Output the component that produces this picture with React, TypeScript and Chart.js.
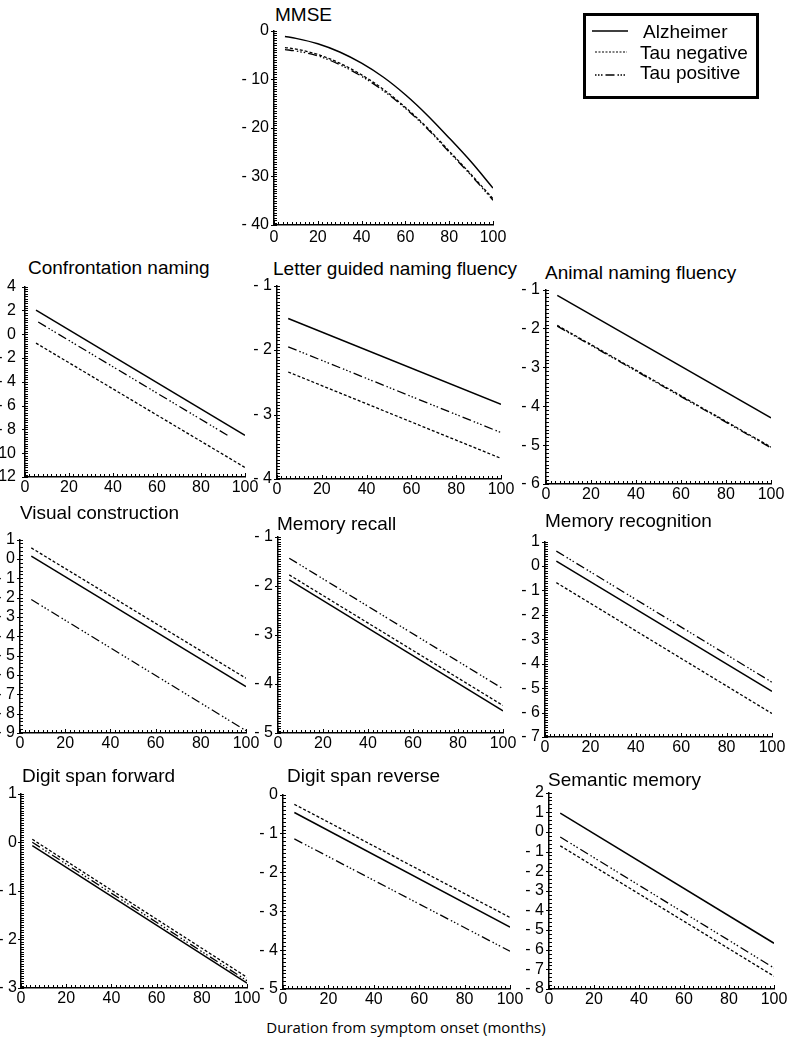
import React, { useEffect, useRef } from "react";
import { Chart, registerables } from "chart.js";
Chart.register(...registerables);

// ---------------- DATA ----------------
const X_TICKS = [0, 20, 40, 60, 80, 100];

const MMSE_TITLE = "MMSE";
const MMSE_TICKS = [0, -10, -20, -30, -40];
const MMSE_X = [5, 10, 20, 30, 40, 50, 60, 70, 80, 90, 100];
const MMSE_ALZ = [-1.2, -1.6, -2.7, -4.4, -6.7, -9.6, -13.2, -17.4, -22.1, -27.0, -32.4];
const MMSE_NEG = [-3.5, -3.8, -4.9, -6.7, -9.1, -12.1, -15.8, -20.0, -24.8, -29.6, -34.6];
const MMSE_POS = [-3.9, -4.2, -5.2, -7.0, -9.4, -12.4, -16.0, -20.2, -25.0, -29.8, -34.9];

const PANEL_TITLES = [
  "Confrontation naming",
  "Letter guided naming fluency",
  "Animal naming fluency",
  "Visual construction",
  "Memory recall",
  "Memory recognition",
  "Digit span forward",
  "Digit span reverse",
  "Semantic memory",
];
const PANEL_TICKS = [
  [4, 2, 0, -2, -4, -6, -8, -10, -12],
  [-1, -2, -3, -4],
  [-1, -2, -3, -4, -5, -6],
  [1, 0, -1, -2, -3, -4, -5, -6, -7, -8, -9],
  [-1, -2, -3, -4, -5],
  [1, 0, -1, -2, -3, -4, -5, -6, -7],
  [1, 0, -1, -2, -3],
  [0, -1, -2, -3, -4, -5],
  [2, 1, 0, -1, -2, -3, -4, -5, -6, -7, -8],
];
// start / end values of each fitted line (x from LINE_X unless noted)
const LINE_X = [5, 100];
const ALZ_Y = [
  [2.02, -8.5], [-1.51, -2.84], [-1.15, -4.3], [0.14, -6.6], [-1.88, -4.55],
  [0.2, -5.13], [-0.07, -2.9], [-0.46, -3.41], [0.96, -5.67],
];
const NEG_Y = [
  [-0.75, -11.2], [-2.34, -3.68], [-1.92, -5.05], [0.57, -6.17], [-1.78, -4.44],
  [-0.68, -6.04], [0.06, -2.78], [-0.25, -3.16], [-0.71, -7.35],
];
const POS_Y = [
  [1.02, -8.6], [-1.95, -3.28], [-1.94, -5.07], [-2.1, -8.88], [-1.44, -4.1],
  [0.61, -4.76], [0.0, -2.85], [-1.14, -4.03], [-0.26, -6.93],
];
const POS_X = [
  [6, 93], [5, 100], [5, 100], [5, 100], [5, 100],
  [5, 100], [5, 100], [5, 100], [5, 100],
];
const LEGEND_LABELS = ["Alzheimer", "Tau negative", "Tau positive"];
const X_AXIS_TITLE = "Duration from symptom onset (months)";

// ---------------- LAYOUT / STYLE ----------------
const FONT = "'Liberation Sans', Arial, sans-serif";
const DASH_NEG = [3, 2];
const DASH_POS = [9, 3, 1.5, 2, 1.5, 2, 1.5, 3];
const YW = 40, PT = 12, PR = 18, XH = 28;

const MMSE_BOX = [274, 493, 28, 225];
const MMSE_TITLE_POS = [275, 21];
const PANEL_BOX = [
  [25, 245, 280, 477],
  [277, 501, 283, 479],
  [546, 771, 286, 484],
  [20, 246, 537, 733],
  [278, 503, 534, 733],
  [545, 772, 539, 737],
  [21, 247, 792, 988],
  [283, 510, 792, 989],
  [549, 774, 790, 989],
];
const TITLE_POS = [
  [28, 274], [273, 275], [545, 279],
  [20, 519], [277, 530], [545, 527],
  [22, 782], [287, 782], [548, 786],
];
const Y_PAD = [9, 5, 6, 5, 5, 5, 4, 5, 5];

type Series = { xs: number[]; ys: number[]; dash: number[]; width: number; smooth?: boolean };
type Spec = {
  title: string;
  ticks: number[];
  series: Series[];
  box: number[];
  titlePos: number[];
  yPad: number;
  xPad: number;
};

const fmt = (v: number) => (v < 0 ? "- " + Math.abs(v) : String(v));

const minorTicksPlugin = {
  id: "minorTicks",
  afterDraw(chart: any, _args: any, opts: any) {
    const { ctx, chartArea: a, scales } = chart;
    const x = scales.x, y = scales.y;
    const yt: number[] = opts.ticks;
    ctx.save();
    ctx.strokeStyle = "#000";
    ctx.lineWidth = 1;
    ctx.beginPath();
    for (let i = 0; i <= 50; i++) {
      const v = i * 2;
      const px = Math.round(x.getPixelForValue(v)) + 0.5;
      const major = v % 20 === 0;
      ctx.moveTo(px, a.bottom);
      ctx.lineTo(px, a.bottom - (major ? 4 : 3));
    }
    const step = yt[0] - yt[1];
    const spacing = Math.abs(y.getPixelForValue(yt[1]) - y.getPixelForValue(yt[0]));
    const cands = [5, 10, 20];
    let n = 10, best = 1e9;
    for (const c of cands) {
      const d = Math.abs(spacing / c - 3.2);
      if (d < best) { best = d; n = c; }
    }
    const total = (yt.length - 1) * n;
    for (let i = 0; i <= total; i++) {
      const v = yt[0] - (i * step) / n;
      const py = Math.round(y.getPixelForValue(v)) + 0.5;
      if (i % n === 0) {
        ctx.moveTo(a.left - 3, py);
        ctx.lineTo(a.left + 3, py);
      } else {
        ctx.moveTo(a.left, py);
        ctx.lineTo(a.left + 3, py);
      }
    }
    ctx.stroke();
    ctx.restore();
  },
};

function Panel({ spec }: { spec: Spec }) {
  const ref = useRef<HTMLCanvasElement | null>(null);
  const [L, R, T, B] = spec.box;
  const w = R - L + YW + PR;
  const h = B - T + PT + XH;
  useEffect(() => {
    if (!ref.current) return;
    const ticks = spec.ticks;
    const chart = new Chart(ref.current, {
      type: "line",
      data: {
        datasets: spec.series.map((s) => ({
          data: s.xs.map((xv, i) => ({ x: xv, y: s.ys[i] })),
          borderColor: "#000",
          backgroundColor: "#000",
          borderWidth: s.width,
          borderDash: s.dash,
          pointRadius: 0,
          fill: false,
          tension: 0,
          cubicInterpolationMode: s.smooth ? "monotone" : "default",
        })),
      },
      options: {
        responsive: false,
        maintainAspectRatio: false,
        animation: false,
        devicePixelRatio: 1,
        events: [],
        layout: { padding: { left: 0, top: PT, right: PR, bottom: 0 } },
        plugins: {
          legend: { display: false },
          tooltip: { enabled: false },
          title: { display: false },
          minorTicks: { ticks },
        } as any,
        scales: {
          x: {
            type: "linear",
            min: 0,
            max: 100,
            afterBuildTicks: (s: any) => { s.ticks = X_TICKS.map((v) => ({ value: v })); },
            afterFit: (s: any) => { s.height = XH; },
            grid: { display: false, drawTicks: false },
            border: { display: true, color: "#000", width: 1.5 },
            ticks: { color: "#000", font: { family: FONT, size: 16 }, padding: spec.xPad, maxRotation: 0, autoSkip: false },
          },
          y: {
            type: "linear",
            min: ticks[ticks.length - 1],
            max: ticks[0],
            afterBuildTicks: (s: any) => { s.ticks = ticks.map((v) => ({ value: v })); },
            afterFit: (s: any) => { s.width = YW; },
            grid: { display: false, drawTicks: false },
            border: { display: true, color: "#000", width: 1.5 },
            ticks: {
              color: "#000",
              font: { family: FONT, size: 16 },
              padding: spec.yPad,
              autoSkip: false,
              callback: (v: any) => fmt(Number(v)),
            },
          },
        },
      } as any,
      plugins: [minorTicksPlugin as any],
    });
    return () => chart.destroy();
  }, [spec]);
  return (
    <>
      <div
        style={{
          position: "absolute",
          left: spec.titlePos[0],
          top: spec.titlePos[1] - 16,
          fontFamily: FONT,
          fontSize: 19,
          lineHeight: "19px",
          whiteSpace: "nowrap",
          color: "#000",
        }}
      >
        {spec.title}
      </div>
      <canvas
        ref={ref}
        width={w}
        height={h}
        style={{ position: "absolute", left: L - YW, top: T - PT, width: w, height: h }}
      />
    </>
  );
}

const MMSE_SPEC: Spec = {
  title: MMSE_TITLE,
  ticks: MMSE_TICKS,
  series: [
    { xs: MMSE_X, ys: MMSE_ALZ, dash: [], width: 1.5, smooth: true },
    { xs: MMSE_X, ys: MMSE_NEG, dash: DASH_NEG, width: 1.3, smooth: true },
    { xs: MMSE_X, ys: MMSE_POS, dash: DASH_POS, width: 1.3, smooth: true },
  ],
  box: MMSE_BOX,
  titlePos: MMSE_TITLE_POS,
  yPad: 5,
  xPad: 3,
};

const PANEL_SPECS: Spec[] = PANEL_TITLES.map((title, i) => ({
  title,
  ticks: PANEL_TICKS[i],
  series: [
    { xs: LINE_X, ys: ALZ_Y[i], dash: [], width: 1.5 },
    { xs: LINE_X, ys: NEG_Y[i], dash: DASH_NEG, width: 1.3 },
    { xs: POS_X[i], ys: POS_Y[i], dash: DASH_POS, width: 1.3 },
  ],
  box: PANEL_BOX[i],
  titlePos: TITLE_POS[i],
  yPad: Y_PAD[i],
  xPad: 1,
}));

function Legend() {
  const textStyle = (left: number, baseline: number): React.CSSProperties => ({
    position: "absolute",
    left,
    top: baseline - 16,
    fontFamily: FONT,
    fontSize: 19,
    lineHeight: "19px",
    whiteSpace: "nowrap",
    color: "#000",
  });
  return (
    <>
      <div
        style={{
          position: "absolute",
          left: 583,
          top: 13,
          width: 176,
          height: 86,
          border: "3px solid #000",
          boxSizing: "border-box",
          background: "#fff",
        }}
      />
      <svg style={{ position: "absolute", left: 0, top: 0 }} width={801} height={110}>
        <line x1={592} y1={31} x2={628} y2={31} stroke="#000" strokeWidth={1.3} />
        <line x1={595} y1={52} x2={627} y2={52} stroke="#000" strokeWidth={1.2} strokeDasharray="2,1.5" />
        <line x1={595} y1={75} x2={628} y2={75} stroke="#000" strokeWidth={1.3} strokeDasharray="1.5,1.5,1.5,1.5,1.5,3,9,3,1.5,1.5,1.5,1.5,1.5,5" />
      </svg>
      <div style={textStyle(643, 38)}>{LEGEND_LABELS[0]}</div>
      <div style={textStyle(640, 59)}>{LEGEND_LABELS[1]}</div>
      <div style={textStyle(640, 79)}>{LEGEND_LABELS[2]}</div>
    </>
  );
}

export default function App() {
  return (
    <div
      style={{
        position: "absolute",
        left: 0,
        top: 0,
        width: 801,
        height: 1050,
        overflow: "hidden",
        background: "#fff",
      }}
    >
      <Panel spec={MMSE_SPEC} />
      {PANEL_SPECS.map((s, i) => (
        <Panel key={i} spec={s} />
      ))}
      <Legend />
      <div
        style={{
          position: "absolute",
          left: 206,
          width: 400,
          top: 1020,
          textAlign: "center",
          fontFamily: "'Open Sans', sans-serif",
          fontSize: 15,
          lineHeight: "15px",
          whiteSpace: "nowrap",
          color: "#000",
        }}
      >
        {X_AXIS_TITLE}
      </div>
    </div>
  );
}
